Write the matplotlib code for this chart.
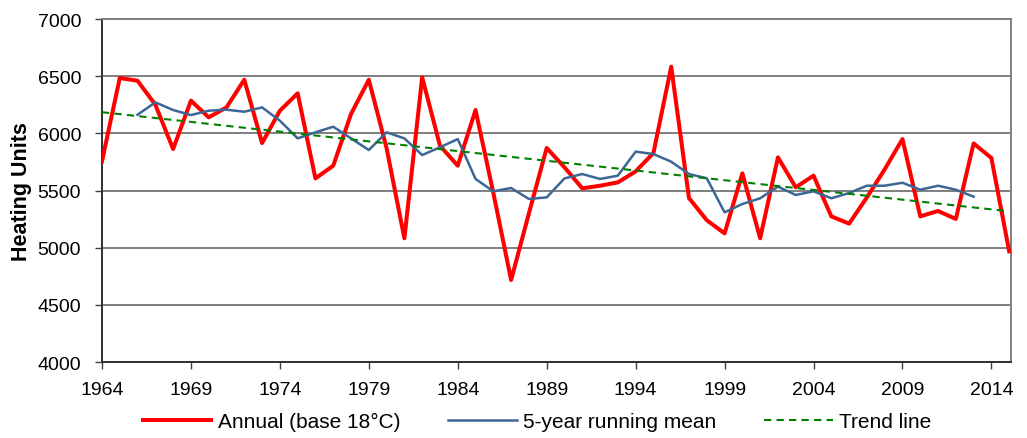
import matplotlib
matplotlib.use("Agg")
import matplotlib.pyplot as plt

years = list(range(1964, 2016))
annual = [5755, 6484, 6460, 6250, 5863, 6286, 6140, 6227, 6469, 5915,
          6198, 6350, 5606, 5717, 6169, 6469, 5870, 5082, 6490, 5892,
          5717, 6204, 5480, 4717, 5300, 5872, 5703, 5519, 5542, 5571,
          5667, 5828, 6583, 5434, 5240, 5125, 5650, 5082, 5790, 5528,
          5630, 5274, 5210, 5440, 5685, 5950, 5274, 5321, 5251, 5912,
          5784, 4968]
mean_years = list(range(1966, 2014))
running_mean = [6163, 6271, 6204, 6160, 6198, 6207, 6189, 6227, 6111, 5956,
                6009, 6058, 5956, 5854, 6009, 5956, 5810, 5878, 5950, 5601,
                5493, 5522, 5426, 5440, 5606, 5644, 5601, 5630, 5840, 5819,
                5752, 5644, 5607, 5309, 5382, 5432, 5534, 5461, 5493, 5432,
                5478, 5542, 5542, 5568, 5507, 5542, 5507, 5446]
trend_years = [1964, 2015]
trend_values = [6185, 5318]
xtick_years = list(range(1964, 2015, 5))
ytick_values = list(range(4000, 7001, 500))

plt.rcParams['font.family'] = ['Liberation Sans', 'DejaVu Sans']

fig = plt.figure(figsize=(10.27, 4.39), dpi=100)
ax = fig.add_axes([0.0993, 0.1731, 0.8851, 0.7813])

for v in ytick_values:
    ax.axhline(v, color='#7f7f7f', lw=1.4, zorder=1)

l1, = ax.plot(years, annual, color='#ff0000', lw=2.9, zorder=3)
l2, = ax.plot(mean_years, running_mean, color='#3c6695', lw=1.8, zorder=4)
l3, = ax.plot(trend_years, trend_values, color='#008000', lw=1.5, ls=(0, (3.5, 2.5)), zorder=5)

ax.set_xlim(1964, 2015.1)
ax.set_ylim(4000, 7000)
ax.set_xticks(xtick_years)
ax.set_xticklabels([str(y) for y in xtick_years], fontsize=14)
ax.set_yticks(ytick_values)
ax.set_yticklabels([str(v) for v in ytick_values], fontsize=14)
ax.tick_params(axis='both', direction='out', length=5, width=1, color='#404040')
ax.tick_params(axis='y', pad=10)
ax.tick_params(axis='x', pad=9)

ax.spines['left'].set_color('#303030')
ax.spines['bottom'].set_color('#303030')
ax.spines['top'].set_color('#808080')
ax.spines['right'].set_color('#808080')
for s in ax.spines.values():
    s.set_linewidth(1.4)

ax.set_ylabel('Heating Units', fontsize=15.5, fontweight='bold', ha='center', va='center')
ax.yaxis.set_label_coords(-0.089, 0.5)

fig.legend([l1, l2, l3], ['Annual (base 18°C)', '5-year running mean', 'Trend line'],
           loc='center', bbox_to_anchor=(0.523, 0.038), ncol=3, frameon=False,
           fontsize=15, handlelength=3.3, columnspacing=2.3, handletextpad=0.3)

fig.savefig('out.png', dpi=100)
